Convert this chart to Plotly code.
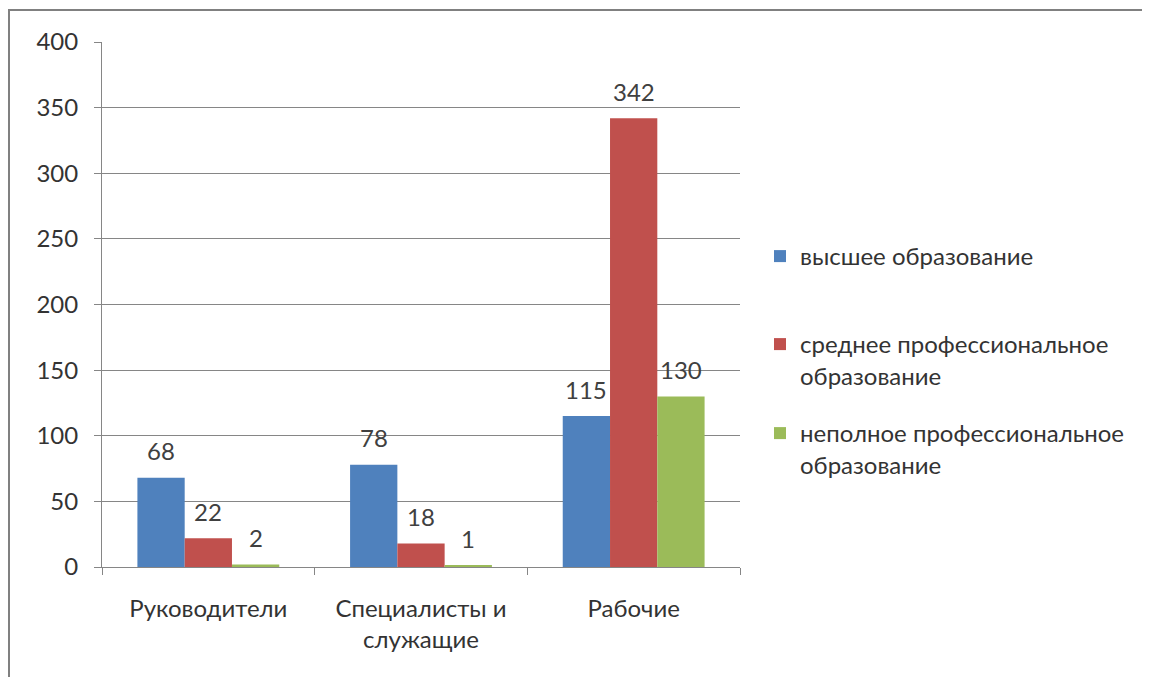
import plotly.graph_objects as go

categories = ["Руководители", "Специалисты и<br>служащие", "Рабочие"]
series_names = ["высшее образование",
                "среднее профессиональное<br>образование",
                "неполное профессиональное<br>образование"]
higher = [68, 78, 115]
secondary = [22, 18, 342]
incomplete = [2, 1, 130]
colors = ["#4F81BD", "#C0504D", "#9BBB59"]
y_ticks = [0, 50, 100, 150, 200, 250, 300, 350, 400]

FONT = "Lato, 'Open Sans', sans-serif"
FS = 24
BARGAP = 0.333
series = [higher, secondary, incomplete]
legend_ids = ["legend", "legend2", "legend3"]

fig = go.Figure()
for i, (name, vals) in enumerate(zip(series_names, series)):
    fig.add_trace(go.Bar(
        x=categories, y=vals, name=name,
        marker=dict(color=colors[i], line=dict(width=0)),
        legend=legend_ids[i],
    ))

# data labels above bars, offset within the group
bw = (1 - BARGAP) / len(series)
annotations = []
for i, vals in enumerate(series):
    off = (i - (len(series) - 1) / 2) * bw
    for j, v in enumerate(vals):
        annotations.append(dict(x=j + off, y=v, xref="x", yref="y", text=str(v),
                                showarrow=False, yanchor="middle", yshift=27,
                                font=dict(size=FS, color="#404040", family=FONT)))

# page body has an 8px margin, so figure coords = screen coords - 8
OFF = 8
W, H = 1150, 677
L, T = 102 - OFF, 42 - OFF
PR, PB = 740 - OFF, 567 - OFF
R, B = W - PR, H - PB
pw, ph = PR - L, PB - T

def px(x):
    return (x - OFF - L) / pw

def py(y):
    return (PB - (y - OFF)) / ph

legend_tops = [234, 322, 411]
legends = {}
for k, lid in enumerate(legend_ids):
    legends[lid] = dict(x=px(760), xanchor="left", y=py(legend_tops[k]), yanchor="top",
                        font=dict(size=FS, color="#333333", family=FONT),
                        valign="top", bgcolor="rgba(0,0,0,0)")

fig.update_layout(
    width=W, height=H,
    margin=dict(l=L, r=R, t=T, b=B, autoexpand=False),
    paper_bgcolor="white", plot_bgcolor="white",
    barmode="group", bargap=BARGAP, bargroupgap=0,
    font=dict(family=FONT, size=FS, color="#333333"),
    showlegend=True,
    annotations=annotations,
    xaxis=dict(showline=True, linecolor="#868686", linewidth=1,
               ticks="outside", ticklen=7, tickcolor="#868686",
               tickson="boundaries", showgrid=False, ticklabelstandoff=20,
               tickfont=dict(size=FS, color="#333333", family=FONT)),
    yaxis=dict(range=[0, 400], tickvals=y_ticks, showline=True, linecolor="#868686",
               linewidth=1, ticks="outside", ticklen=7, tickcolor="#868686",
               showgrid=True, gridcolor="#868686", gridwidth=1, zeroline=False,
               ticklabelstandoff=11,
               tickfont=dict(size=FS, color="#333333", family=FONT)),
    shapes=[dict(type="rect", xref="paper", yref="paper",
                 x0=px(9), x1=px(1200),
                 y0=py(720), y1=py(10),
                 line=dict(color="#808080", width=2), fillcolor="rgba(0,0,0,0)", layer="below")],
    **legends,
)
fig.write_html("out.html")
